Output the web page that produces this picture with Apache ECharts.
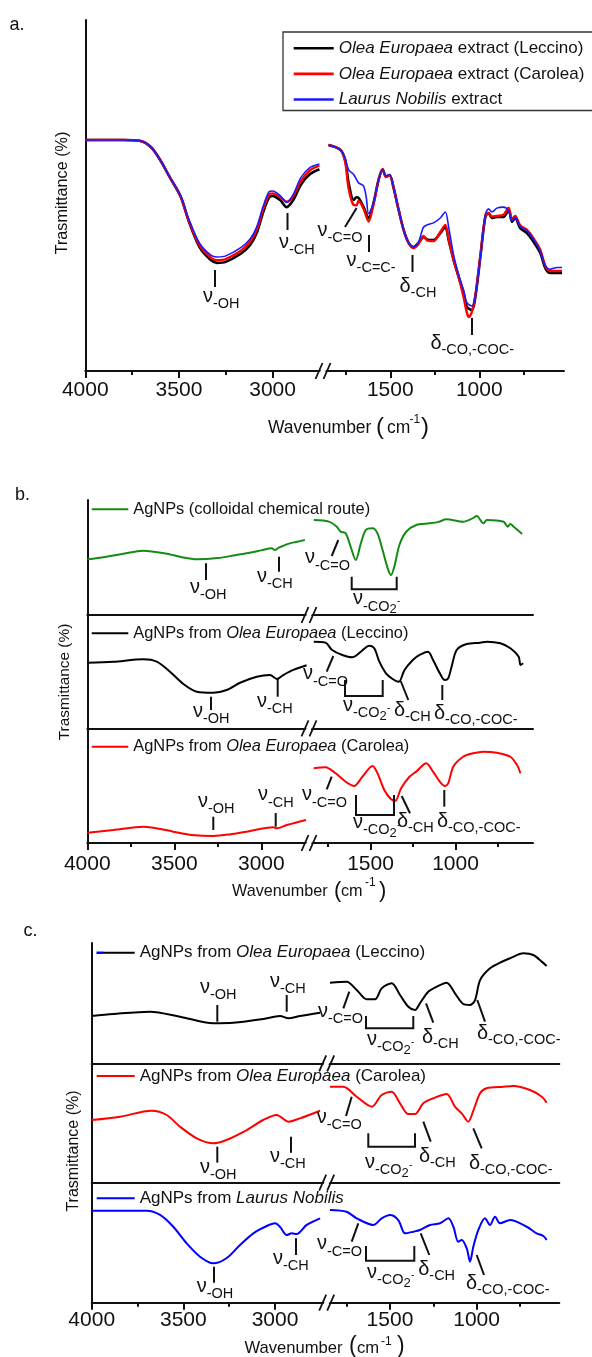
<!DOCTYPE html>
<html>
<head>
<meta charset="utf-8">
<script src="https://cdn.jsdelivr.net/npm/echarts@6/dist/echarts.min.js"></script>
<style>
  html, body { margin: 0; padding: 0; background: #fff; }
  #chart { width: 592px; height: 1357px; }
</style>
</head>
<body>
<div id="chart"></div>
<script>
// ---- tick values ----
const majorLeft = [4000, 3500, 3000];
const minorLeft = [3750, 3250];
const majorRight = [1500, 1000];
const minorRight = [1750, 1250, 750];

// ---- series names ----
const nameExtLec = 'Olea Europaea extract (Leccino)';
const nameExtCar = 'Olea Europaea extract (Carolea)';
const nameExtLau = 'Laurus Nobilis extract';
const nameNpCol = 'AgNPs (colloidal chemical route)';
const nameNpLec = 'AgNPs from Olea Europaea (Leccino)';
const nameNpCar = 'AgNPs from Olea Europaea (Carolea)';
const nameNpLau = 'AgNPs from Laurus Nobilis';

// ---- panel a: extracts [wavenumber, transmittance] ----
const extLecL = [[4000,65.8],[3900,65.8],[3800,65.8],[3710,65.6],[3650,63.8],[3600,60.1],[3550,55.3],[3490,49.6],[3450,43.0],[3390,35.3],[3330,31.6],[3297,30.8],[3250,31.1],[3166,33.6],[3120,35.9],[3085,39.3],[3050,45.3],[3020,49.3],[3000,49.9],[2960,48.7],[2925,46.7],[2890,48.7],[2850,53.0],[2800,56.1],[2750,57.5]];
const extCarL = [[4000,65.8],[3900,65.8],[3800,65.8],[3710,65.6],[3650,63.8],[3600,60.1],[3550,55.3],[3490,49.6],[3450,43.2],[3390,35.8],[3330,32.3],[3297,31.6],[3250,31.9],[3166,34.4],[3120,36.8],[3085,40.2],[3050,46.2],[3020,50.2],[3000,50.6],[2960,49.6],[2925,48.2],[2890,49.8],[2850,54.0],[2800,57.2],[2750,58.5]];
const extLauL = [[4000,65.8],[3900,65.8],[3800,65.8],[3710,65.6],[3650,63.8],[3600,60.1],[3550,55.3],[3490,49.8],[3450,43.6],[3390,36.4],[3330,33.0],[3297,32.5],[3250,32.8],[3166,35.3],[3120,37.6],[3085,41.0],[3050,47.0],[3020,51.0],[3000,51.3],[2960,50.0],[2925,48.0],[2890,50.3],[2850,55.0],[2800,58.0],[2750,59.0]];
const extLecR = [[1847,64.4],[1780,63],[1753,60],[1734,53.6],[1706,48.7],[1690,49.5],[1678,49.3],[1650,46.7],[1622,43.6],[1594,47.9],[1566,54.4],[1543,57.5],[1524,55.3],[1504,55.8],[1481,52.1],[1453,45.9],[1425,40.2],[1397,36.5],[1369,35.3],[1341,36.5],[1313,38.2],[1294,37.5],[1257,37.3],[1219,39.3],[1191,41.0],[1172,37.3],[1144,31.6],[1116,26.8],[1088,22.2],[1069,18.2],[1041,17.4],[1022,21.1],[994,32.5],[966,43.9],[948,45.0],[929,43.6],[901,43.9],[864,43.9],[835,45.9],[816,42.5],[798,43.6],[770,40.7],[732,39.3],[695,36.8],[657,33.6],[629,29.3],[601,27.9],[563,27.9],[535,27.9]];
const extCarR = [[1847,64.4],[1780,63],[1753,59.5],[1734,52],[1706,47.3],[1690,47.2],[1678,48.5],[1650,46.2],[1622,42.6],[1594,47.5],[1566,54.4],[1543,57.5],[1524,55.3],[1504,55.8],[1481,52.1],[1453,45.9],[1425,40.2],[1397,36.5],[1369,35.0],[1341,36.2],[1313,38.5],[1294,37.2],[1257,37.0],[1219,39.6],[1191,41.6],[1172,37.6],[1144,31.6],[1116,26.8],[1088,21.0],[1069,16.5],[1058,15.4],[1041,17.0],[1022,21.5],[994,32.8],[966,44.2],[948,45.0],[929,44.0],[901,44.2],[864,44.5],[835,46.5],[816,43.2],[798,44.2],[770,41.5],[732,40.2],[695,37.8],[657,34.5],[629,30],[601,28.5],[563,28.5],[535,28.5]];
const extLauR = [[1847,64.4],[1780,63],[1753,60.5],[1734,57.3],[1706,56.0],[1678,53.6],[1650,52.7],[1635,49.5],[1622,44.8],[1594,47.9],[1566,54.4],[1543,57.5],[1524,55.6],[1504,56.0],[1481,52.1],[1453,45.9],[1425,40.2],[1397,36.5],[1369,35.3],[1341,36.8],[1320,40.2],[1313,41.0],[1294,41.6],[1257,42.2],[1219,43.6],[1191,45.3],[1172,41.0],[1144,33],[1116,27.5],[1088,23],[1069,19.4],[1041,18.5],[1022,21.5],[994,32.5],[966,44.5],[948,46.2],[929,45.3],[901,46.4],[864,46.7],[835,45.6],[816,42.8],[798,43.8],[770,41.2],[732,40],[695,37.5],[657,34.2],[629,30],[601,29],[563,29.5],[535,29.5]];

// ---- panel b: AgNPs ----
const colL = [[4000,48.4],[3900,50.5],[3800,53],[3678,55.9],[3550,53.5],[3450,50],[3371,48.4],[3250,49.5],[3150,52],[3084,53.7],[3000,56.2],[2940,58],[2922,56.5],[2900,58.5],[2880,59.8],[2836,62.3],[2800,63.5],[2750,65.2]];
const colR = [[1834,82.6],[1745,81.2],[1700,77],[1676,72.5],[1646,71],[1617,59.4],[1587,47.8],[1557,62.3],[1528,73.9],[1488,75.4],[1459,71],[1429,56.5],[1399,40.6],[1379,34.8],[1360,42],[1330,60.9],[1290,72.4],[1231,78.3],[1152,79.7],[1100,81],[1053,83.2],[955,81.1],[900,84],[875,86.1],[836,79.7],[815,82.6],[717,81.1],[693,76.8],[677,79.1],[658,76.8],[608,70.4]];
const npLecBL = [[4000,57.9],[3851,58.8],[3678,60.9],[3601,58.8],[3525,50],[3448,39.1],[3371,32.3],[3276,31.4],[3199,33.8],[3122,40.2],[3026,45.5],[2950,47],[2911,43.5],[2874,47],[2816,51.5],[2740,55.6]];
const npLecBR = [[1834,76.4],[1765,75.6],[1726,69.1],[1666,64.7],[1607,62.7],[1557,67.6],[1508,72.9],[1478,70.6],[1448,58.8],[1409,48.5],[1370,43.5],[1334,41.1],[1300,51.5],[1251,60.3],[1211,64.7],[1162,67.6],[1132,60.3],[1092,48.5],[1063,42.6],[1043,44.1],[1023,54.4],[993,69.1],[934,74.4],[855,75.6],[815,76.4],[736,75],[677,70.6],[628,63.2],[618,55.9],[602,57.4]];
const npCarBL = [[4000,9],[3851,11.3],[3678,14.2],[3506,9.9],[3400,7],[3276,6.1],[3180,7.5],[3084,9.9],[2931,13.7],[2911,12.8],[2853,15.7],[2743,20.1]];
const npCarBR = [[1834,65.1],[1765,66],[1706,60.8],[1646,53.4],[1597,49.7],[1548,57.8],[1488,67.1],[1459,60.8],[1419,46.2],[1379,38.1],[1354,36.9],[1320,47.7],[1271,57.8],[1231,62.2],[1172,69.5],[1132,62.2],[1092,53.4],[1063,49.7],[1043,52],[1013,66.5],[955,75.2],[896,78.2],[836,79.6],[757,78.7],[677,75.2],[638,68],[618,60.8]];

// ---- panel c: AgNPs ----
const npLecCL = [[4000,39.3],[3882,41],[3682,42.9],[3518,38.7],[3337,33.3],[3228,33.7],[3064,36.8],[2973,39.3],[2927,37.4],[2864,39.3],[2754,42]];
const npLecCR = [[1846,67],[1750,67.8],[1692,60.9],[1634,53.2],[1586,53.2],[1548,62.3],[1490,66.5],[1442,56.8],[1394,47],[1355,44.3],[1327,49.9],[1279,59.5],[1230,63.7],[1173,67],[1125,58.2],[1077,49.3],[1038,48.5],[1009,52.6],[980,69.2],[923,79],[865,83.6],[807,87.3],[730,91.4],[673,90],[624,84.5],[596,80.9]];
const npCarCL = [[4000,52.5],[3846,55.3],[3673,60.3],[3591,56.7],[3518,46.9],[3427,37.2],[3337,33],[3265,35.8],[3154,44.1],[3064,52.5],[2991,56.7],[2927,51.1],[2864,53.9],[2754,60.3]];
const npCarCR = [[1846,80.4],[1769,80.4],[1692,72],[1605,63.7],[1548,73.5],[1490,76.2],[1442,66.5],[1394,57.5],[1355,57.5],[1308,66.5],[1250,70.7],[1173,74.3],[1125,63.7],[1086,58.1],[1048,51.1],[1019,60.3],[980,74.9],[942,79.1],[846,80.4],[788,81],[692,77.6],[624,72],[596,67]];
const npLauCL = [[4000,76.7],[3700,76.7],[3627,73.1],[3555,63.3],[3482,49.5],[3409,38.3],[3337,32.8],[3265,37],[3191,48.1],[3118,57.8],[3045,63.9],[3000,66.2],[2973,63.3],[2936,56.4],[2909,57.8],[2882,57.3],[2827,64.8],[2754,70.3]];
const npLauCR = [[1846,77.3],[1750,75.8],[1692,70.3],[1596,64.8],[1548,70.3],[1500,73.1],[1452,68.9],[1413,57.8],[1365,59.2],[1327,60.6],[1269,64.8],[1211,66.2],[1163,70.3],[1134,63.3],[1106,50.8],[1086,52.3],[1057,45.3],[1038,34.2],[1019,46.7],[990,60.6],[952,70.3],[923,64.8],[894,71.7],[865,66.2],[807,68.9],[711,63.3],[654,57.8],[615,55.6],[596,52.3]];

const FONT = "'Liberation Sans', Arial, Helvetica, sans-serif";
const INK = '#111';

// panel layout: broken x axis, left piece 4000..leftMin, right piece rightMax..rightMin
const panels = [
  { id: 'a', L: 85.3, B: 323, R: 564, leftMin: 2731, rightMin: 524, rightMax: 1878, rows: [[20, 371]], margin: 9 },
  { id: 'b', L: 87.3, B: 309, R: 533, leftMin: 2726, rightMin: 544, rightMax: 1862, rows: [[500, 615], [615, 728.3], [728.3, 843]], margin: 11 },
  { id: 'c', L: 91.7, B: 326.7, R: 559.3, leftMin: 2718, rightMin: 523, rightMax: 1865, rows: [[943, 1063.3], [1063.3, 1182.7], [1182.7, 1302.7]], margin: 7 }
];

const grids = [], xAxes = [], yAxes = [], cells = {};
panels.forEach(p => {
  p.rows.forEach((row, r) => {
    const last = r === p.rows.length - 1;
    const sides = [
      ['L', p.L, p.B, p.leftMin, 4000, majorLeft, minorLeft],
      ['R', p.B, p.R, p.rightMin, p.rightMax, majorRight, minorRight]
    ];
    sides.forEach(([side, x0, x1, mn, mx, maj, mnr]) => {
      const gridIndex = grids.length;
      grids.push({ left: x0, top: row[0], width: x1 - x0, height: row[1] - row[0], outerBoundsMode: 'none', containLabel: false });
      const xi = xAxes.length;
      xAxes.push({
        type: 'value', gridIndex, min: mn, max: mx, inverse: true, position: 'bottom',
        axisLine: { show: true, onZero: false, lineStyle: { color: INK, width: 2 } },
        axisTick: { show: last, customValues: maj, length: 7, lineStyle: { color: INK, width: 2 } },
        axisLabel: { show: last, customValues: maj, margin: p.margin, fontSize: 21, color: INK, fontFamily: FONT, formatter: v => String(v) },
        splitLine: { show: false }
      });
      if (last) {
        xAxes.push({
          type: 'value', gridIndex, min: mn, max: mx, inverse: true, position: 'bottom',
          axisLine: { show: false, onZero: false },
          axisTick: { show: true, customValues: mnr, length: 4, lineStyle: { color: INK, width: 2 } },
          axisLabel: { show: false },
          splitLine: { show: false }
        });
      }
      const yi = yAxes.length;
      yAxes.push({
        type: 'value', gridIndex, min: 0, max: 100,
        axisLine: { show: side === 'L', onZero: false, lineStyle: { color: INK, width: 2 } },
        axisTick: { show: false }, axisLabel: { show: false }, splitLine: { show: false }
      });
      cells[p.id + r + side] = { xi, yi };
    });
  });
});

const seriesDefs = [
  ['a0L', nameExtLec, extLecL, '#000000', 2.6], ['a0R', nameExtLec, extLecR, '#000000', 2.6],
  ['a0L', nameExtCar, extCarL, '#ff0000', 2.4], ['a0R', nameExtCar, extCarR, '#ff0000', 2.4],
  ['a0L', nameExtLau, extLauL, '#1a1aff', 1.6], ['a0R', nameExtLau, extLauR, '#1a1aff', 1.6],
  ['b0L', nameNpCol, colL, '#168a16', 2], ['b0R', nameNpCol, colR, '#168a16', 2],
  ['b1L', nameNpLec, npLecBL, '#000000', 2], ['b1R', nameNpLec, npLecBR, '#000000', 2],
  ['b2L', nameNpCar, npCarBL, '#ff0000', 2], ['b2R', nameNpCar, npCarBR, '#ff0000', 2],
  ['c0L', nameNpLec, npLecCL, '#000000', 2], ['c0R', nameNpLec, npLecCR, '#000000', 2],
  ['c1L', nameNpCar, npCarCL, '#ff0000', 2], ['c1R', nameNpCar, npCarCR, '#ff0000', 2],
  ['c2L', nameNpLau, npLauCL, '#0000ff', 2], ['c2R', nameNpLau, npLauCR, '#0000ff', 2]
];
const series = seriesDefs.map(([key, name, data, color, width]) => ({
  type: 'line', name, data,
  xAxisIndex: cells[key].xi, yAxisIndex: cells[key].yi,
  symbol: 'none', smooth: 0.3,
  lineStyle: { color, width }, itemStyle: { color },
  animation: false
}));

// legends (thin rect icons drawn as line samples)
const italicFmt = name => name.replace(/(Olea Europaea|Laurus Nobilis)/, '{i|$1}');
function makeLegend(data, left, top, size, itemWidth, thick, extra) {
  return Object.assign({
    data, left, top, orient: 'vertical', selectedMode: false,
    icon: 'rect', itemWidth, itemHeight: thick, itemGap: 8.6, padding: 0,
    formatter: italicFmt,
    textStyle: {
      fontSize: size, fontFamily: FONT, color: INK, lineHeight: 17,
      rich: { i: { fontStyle: 'italic', fontSize: size, fontFamily: FONT, color: INK, lineHeight: 17 } }
    }
  }, extra || {});
}
const legends = [
  makeLegend([nameExtLec, nameExtCar, nameExtLau], 283, 32, 17, 40, 2.6,
    { borderColor: '#333', borderWidth: 1.3, padding: [7.8, 40, 2.5, 10.7] }),
  makeLegend([nameNpCol], 91.7, 509.3 - 8.5, 16.4, 36.6, 2),
  makeLegend([nameNpLec], 91.7, 633.3 - 8.5, 16.4, 36.6, 2),
  makeLegend([nameNpCar], 91.7, 746.7 - 8.5, 16.4, 36.6, 2),
  makeLegend([nameNpLec], 96.7, 952.7 - 8.5, 17, 38, 2),
  makeLegend([nameNpCar], 96.7, 1076 - 8.5, 17, 38, 2),
  makeLegend([nameNpLau], 96.7, 1198.3 - 8.5, 17, 38, 2)
];

// ---- annotation layout (pixels) ----
const bandLabels = [
  ['ν','-OH',213,304],['ν','-CH',289,250],['ν','-C=O',327.5,238],['ν','-C=C-',356.6,268],['δ','-CH',410.6,293],['δ','-CO,-COC-',441.5,350],
  ['ν','-OH',200,595],['ν','-CH',267,584],['ν','-C=O',315,565.7],['ν','-CO2-',363,606.7],
  ['ν','-C=O',313,681.7],['ν','-CO2-',353,713],['δ','-CH',405,716.7],['δ','-CO,-COC-',445,720],['ν','-OH',203,719.3],['ν','-CH',267,709.3],
  ['ν','-OH',208,809.3],['ν','-CH',268,802.7],['ν','-C=O',312,802.7],['ν','-CO2-',363,830],['δ','-CH',408,828.3],['δ','-CO,-COC-',448,828.3],
  ['ν','-OH',210,995],['ν','-CH',280,989.3],['ν','-C=O',328,1019.3],['ν','-CO2-',377,1047.3],['δ','-CH',433,1044],['δ','-CO,-COC-',488,1040],
  ['ν','-C=O',326.7,1125],['ν','-CO2-',375,1170],['δ','-CH',430,1162.7],['δ','-CO,-COC-',480,1170],['ν','-OH',210,1175],['ν','-CH',280,1164],
  ['ν','-OH',206.7,1294],['ν','-CH',283,1266],['ν','-C=O',327,1251.7],['ν','-CO2-',377,1280],['δ','-CH',429.3,1276],['δ','-CO,-COC-',477,1290]
];
const bandTicks = [
  [215,270,215,287],[287.5,213,287.5,230],[356.6,208,345,227],[369,235,369,252],[412.5,255,412.5,272],[472,318,472,335],
  [206,563.3,206,580],[279,556.7,279,571.7],[338.3,540,331.7,556],
  [333.3,656,326.7,671.7],[400.7,681,408.3,700],[442.3,685,442.3,700],[211,696.7,211,710],[277.7,679,277.7,696.7],
  [213.3,816.7,213.3,830],[275.7,813,275.7,826.7],[331.7,776.7,326.7,789.3],[401.7,796,410,813.3],[444.3,790,444.3,806.7],
  [217.3,1005,217.3,1021.7],[286.7,995,286.7,1011.7],[349.3,991.7,343.3,1008.3],[426,1003.3,433.3,1022.7],[477.3,1000,485,1021.7],
  [351.7,1096.7,346,1116],[423.3,1121.7,430.7,1141.7],[473.3,1128.3,481.7,1148.3],[217.3,1146.7,217.3,1162.7],[291,1136.7,291,1152.7],
  [214,1266.7,214,1282.7],[296,1238.3,296,1255],[358.3,1223.3,351.7,1241.7],[420.7,1233.3,429.3,1255],[476.7,1255,484,1275]
];
const brackets = [
  [351.7,576.7,396.7,589.3],[345,680,382.7,696],[356,795,394,815],
  [366,1016,413.3,1028.3],[368.3,1133.3,415,1146.7],[366,1246,414.3,1260.7]
];
const breaks = [[323,371],[309,615],[309,728.3],[309,843],[326.7,1063.3],[326.7,1182.7],[326.7,1302.7]];

const graphics = [];
function txt(x, y, text, size, extra) {
  graphics.push({
    type: 'text', x, y, z: 100,
    style: Object.assign({ text, fontSize: size, fontFamily: FONT, fill: INK, align: 'left', verticalAlign: 'middle' }, extra || {})
  });
}
function seg(x1, y1, x2, y2, w, color) {
  graphics.push({ type: 'line', z: 100, shape: { x1, y1, x2, y2 }, style: { stroke: color || INK, lineWidth: w || 2 } });
}

bandLabels.forEach(([sym, sub, sx, sy]) => {
  const symW = sym === 'ν' ? 10 : 11;
  txt(sx - symW, sy - (sym === 'ν' ? 8 : 6.5), sym, 20);
  if (sub === '-CO2-') {
    txt(sx, sy, '-CO', 14.5);
    txt(sx + 26.6, sy + 3, '2', 13);
    txt(sx + 34, sy - 5, '-', 10);
  } else {
    txt(sx, sy, sub, 14.5);
  }
});
bandTicks.forEach(t => seg(t[0], t[1], t[2], t[3], 2));
brackets.forEach(([x1, yt, x2, yb]) => {
  graphics.push({ type: 'polyline', z: 100, shape: { points: [[x1, yt], [x1, yb], [x2, yb], [x2, yt]] }, style: { stroke: INK, lineWidth: 2, fill: null } });
});
breaks.forEach(([cx, cy]) => {
  graphics.push({ type: 'polygon', z: 99, shape: { points: [[cx - 6, cy + 8], [cx + 1, cy - 8], [cx + 6, cy - 8], [cx - 1, cy + 8]] }, style: { fill: '#fff', stroke: null } });
  seg(cx - 7.5, cy + 8, cx - 0.5, cy - 8, 1.8);
  seg(cx + 0.5, cy + 8, cx + 7.5, cy - 8, 1.8);
});

// panel letters
txt(9.4, 25, 'a.', 18);
txt(15, 495, 'b.', 18);
txt(23.4, 931, 'c.', 18);

// y axis titles
[[63, 193, 16.2], [65, 682, 15.4], [73.5, 1151, 16]].forEach(([x, y, s]) => {
  graphics.push({ type: 'text', x, y, rotation: Math.PI / 2, z: 100,
    style: { text: 'Trasmittance (%)', fontSize: s, fontFamily: FONT, fill: INK, align: 'center', verticalAlign: 'middle' } });
});

// x axis titles: Wavenumber (cm-1)
[
  [268, 428, 17.5, 376, 24, 387, 409.5, 420, 421],
  [232, 892, 16.2, 334, 22, 341, 365, 883, 379],
  [244.5, 1348, 16.6, 349, 23, 357, 381, 1341.7, 397]
].forEach(([x, y, s, px, ps, cx, sx, sy, qx]) => {
  txt(x, y, 'Wavenumber', s);
  txt(px, y - 1, '(', ps);
  txt(cx, y, 'cm', s);
  txt(sx, sy, '-1', 12);
  txt(qx, y - 1, ')', ps);
});

// blue stub at the start of the first legend line in panel c
seg(96.7, 952.7, 103.5, 952.7, 2, '#0000ff');

const chart = echarts.init(document.getElementById('chart'));
chart.setOption({
  backgroundColor: '#fff',
  animation: false,
  grid: grids,
  xAxis: xAxes,
  yAxis: yAxes,
  legend: legends,
  series,
  graphic: { elements: graphics }
});
</script>
</body>
</html>
